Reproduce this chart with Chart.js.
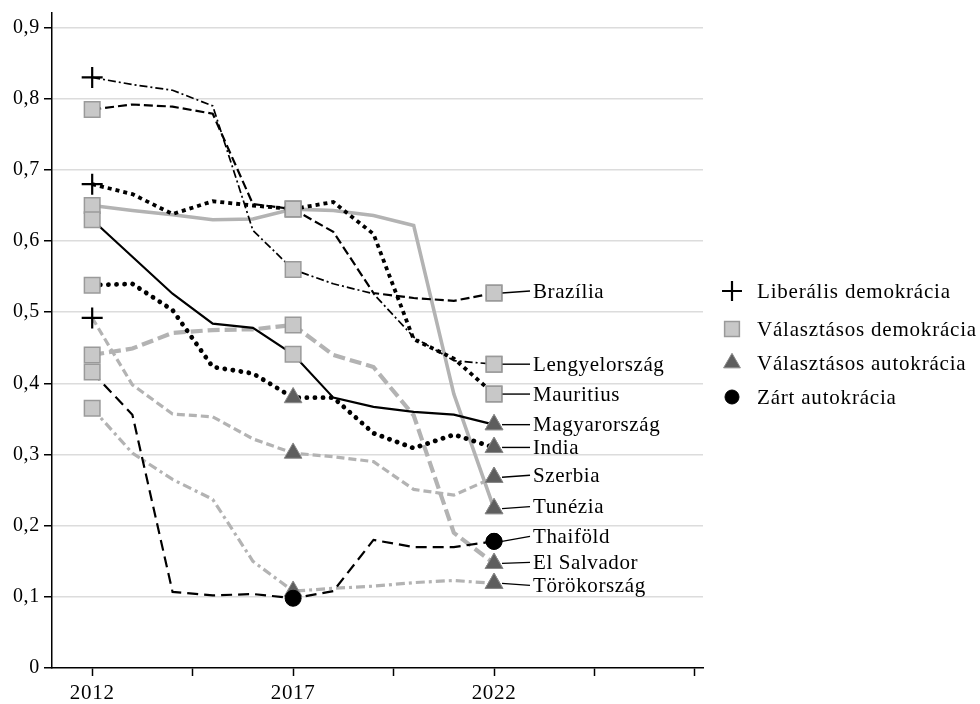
<!DOCTYPE html>
<html><head><meta charset="utf-8">
<script src="https://cdn.jsdelivr.net/npm/chart.js@4/dist/chart.umd.min.js"></script>
<style>html,body{margin:0;padding:0;background:#fff;}canvas{display:block;}</style>
</head><body>
<canvas id="c" width="980" height="704"></canvas>
<script>
// ---- data ----
const years = [2012,2013,2014,2015,2016,2017,2018,2019,2020,2021,2022];
const yTicks = [0,0.1,0.2,0.3,0.4,0.5,0.6,0.7,0.8,0.9];
const xTicks = [2012,2014.5,2017,2019.5,2022,2024.5,2027];
const xLabelled = [2012,2017,2022];
const countries = ['Brazília','Lengyelország','Mauritius','Magyarország','India','Szerbia','Tunézia','Thaiföld','El Salvador','Törökország'];
const brazil     = [0.785,0.792,0.789,0.779,0.652,0.645,0.613,0.527,0.520,0.516,0.527];
const poland     = [0.830,0.820,0.812,0.790,0.615,0.560,0.540,0.526,0.465,0.432,0.427];
const mauritius  = [0.680,0.666,0.638,0.656,0.650,0.645,0.655,0.610,0.462,0.435,0.385];
const hungary    = [0.630,0.578,0.526,0.484,0.478,0.441,0.380,0.367,0.360,0.356,0.342];
const india      = [0.538,0.540,0.503,0.423,0.414,0.380,0.380,0.330,0.309,0.328,0.310];
const serbia     = [0.492,0.398,0.357,0.353,0.322,0.302,0.297,0.290,0.251,0.243,0.268];
const tunisia    = [0.650,0.643,0.637,0.630,0.631,0.645,0.643,0.636,0.622,0.385,0.224];
const thailand   = [0.416,0.356,0.107,0.102,0.104,0.098,0.108,0.180,0.170,0.170,0.178];
const elSalvador = [0.440,0.449,0.471,0.475,0.476,0.482,0.440,0.423,0.355,0.190,0.147];
const turkey     = [0.365,0.302,0.265,0.237,0.150,0.108,0.112,0.115,0.120,0.123,0.119];
const series = [brazil,poland,mauritius,hungary,india,serbia,tunisia,thailand,elSalvador,turkey];
// regime category at 2012, 2017, 2022 (L = liberális dem., E = választásos dem., A = választásos autokrácia, C = zárt autokrácia)
const markerYears = [2012,2017,2022];
const regimes = [
  ['E','E','E'], ['L','E','E'], ['L','E','E'], ['E','E','A'], ['E','A','A'],
  ['L','A','A'], ['E','E','A'], ['E','C','C'], ['E','E','A'], ['E','A','A']
];
const regimeCodes = ['L','E','A','C'];
const regimeNames = ['Liberális demokrácia','Választásos demokrácia','Választásos autokrácia','Zárt autokrácia'];

// ---- styles ----
const BLACK = '#000000', GRAY = '#b3b3b3';
const lineStyles = [
  {color:BLACK, width:2.2, dash:[9,4]},          // Brazília
  {color:BLACK, width:1.7, dash:[8,3,2,3]},      // Lengyelország
  {color:BLACK, width:3.8, dash:[4,4]},          // Mauritius
  {color:BLACK, width:2.2, dash:[]},             // Magyarország
  {color:BLACK, width:4.8, dash:[0.1,8], cap:'round'}, // India
  {color:GRAY,  width:3.2, dash:[8,4]},          // Szerbia
  {color:GRAY,  width:3.6, dash:[]},             // Tunézia
  {color:BLACK, width:2.2, dash:[11,6]},         // Thaiföld
  {color:GRAY,  width:4.2, dash:[12,5]},         // El Salvador
  {color:GRAY,  width:3.2, dash:[9,4,3,4]}       // Törökország
];
const markerStyles = {
  L: {pointStyle:'cross',    radius:10.5, bg:BLACK,     border:BLACK,     bw:2.2},
  E: {pointStyle:'rect',     radius:11,   bg:'#c8c8c8', border:'#9a9a9a', bw:1.5},
  A: {pointStyle:'triangle', radius:10.2, bg:'#5e5e5e', border:'#8a8a8a', bw:1},
  C: {pointStyle:'circle',   radius:8,    bg:BLACK,     border:BLACK,     bw:1}
};
const FONT = '"Liberation Serif","Times New Roman",serif';

function markerOf(di, idx){
  const k = markerYears.indexOf(years[idx]);
  return k < 0 ? null : markerStyles[regimes[di][k]];
}

const datasets = series.map((vals, di) => ({
  label: countries[di],
  data: vals.map((v,i) => ({x: years[i], y: v})),
  borderColor: lineStyles[di].color,
  borderWidth: lineStyles[di].width,
  borderDash: lineStyles[di].dash,
  borderCapStyle: lineStyles[di].cap || 'butt',
  tension: 0,
  fill: false,
  pointStyle: c => { const m = markerOf(di, c.dataIndex); return m ? m.pointStyle : 'circle'; },
  pointRadius: c => { const m = markerOf(di, c.dataIndex); return m ? m.radius : 0; },
  pointBackgroundColor: c => { const m = markerOf(di, c.dataIndex); return m ? m.bg : BLACK; },
  pointBorderColor: c => { const m = markerOf(di, c.dataIndex); return m ? m.border : BLACK; },
  pointBorderWidth: c => { const m = markerOf(di, c.dataIndex); return m ? m.bw : 0; },
  pointHoverRadius: 0
}));

const labelNudge = [-2,0,0,0,0,-2,-2,-5,-1,2];

const spacing = {
  id: 'spacing',
  beforeDraw(chart){ try { chart.ctx.letterSpacing = '0.7px'; } catch(e){} }
};

const endLabels = {
  id: 'endLabels',
  afterDatasetsDraw(chart){
    const ctx = chart.ctx;
    ctx.save();
    ctx.font = '21px ' + FONT;
    try { ctx.letterSpacing = '0.6px'; } catch(e){}
    ctx.fillStyle = '#000';
    ctx.textBaseline = 'middle';
    ctx.textAlign = 'left';
    const textX = 533;
    chart.data.datasets.forEach((ds, di) => {
      const meta = chart.getDatasetMeta(di);
      const pt = meta.data[meta.data.length - 1];
      const ly = pt.y + labelNudge[di];
      ctx.beginPath();
      ctx.strokeStyle = '#000';
      ctx.lineWidth = 1.4;
      ctx.setLineDash([]);
      ctx.moveTo(pt.x + 8, pt.y);
      ctx.lineTo(textX - 3, ly);
      ctx.stroke();
      ctx.fillText(ds.label, textX, ly + 1);
    });
    chart.data.datasets.forEach((ds, di) => {
      const meta = chart.getDatasetMeta(di);
      const idx = meta.data.length - 1;
      const pt = meta.data[idx];
      const m = markerOf(di, idx);
      ctx.fillStyle = m.bg; ctx.strokeStyle = m.border; ctx.lineWidth = m.bw;
      Chart.helpers.drawPoint(ctx, {pointStyle:m.pointStyle, radius:m.radius, borderWidth:m.bw, rotation:0}, pt.x, pt.y);
    });
    ctx.restore();
  }
};

const customLegend = {
  id: 'customLegend',
  afterDraw(chart){
    const ctx = chart.ctx;
    ctx.save();
    const ys = [291, 329, 363, 397];
    regimeCodes.forEach((code, i) => {
      const m = markerStyles[code];
      ctx.fillStyle = m.bg; ctx.strokeStyle = m.border; ctx.lineWidth = m.bw;
      Chart.helpers.drawPoint(ctx, {pointStyle:m.pointStyle, radius:(code==='C'?7:m.radius*0.95), borderWidth:m.bw, rotation:0}, 732, ys[i]);
      ctx.font = '21px ' + FONT;
      try { ctx.letterSpacing = '0.8px'; } catch(e){}
      ctx.fillStyle = '#000';
      ctx.textBaseline = 'middle';
      ctx.textAlign = 'left';
      ctx.fillText(regimeNames[i], 757, ys[i] + 1);
    });
    ctx.restore();
  }
};

new Chart(document.getElementById('c'), {
  type: 'line',
  data: { datasets },
  plugins: [spacing, endLabels, customLegend],
  options: {
    responsive: false,
    animation: false,
    events: [],
    layout: { padding: { top: 10, right: 277, left: 0, bottom: 0 } },
    plugins: { legend: { display: false }, tooltip: { enabled: false } },
    scales: {
      x: {
        type: 'linear',
        min: 2011, max: 2027.2,
        afterFit: s => { s.height = 36; s.paddingLeft = 0; s.paddingRight = 0; },
        afterBuildTicks: s => { s.ticks = xTicks.map(v => ({value: v})); },
        ticks: {
          autoSkip: false, maxRotation: 0, padding: 5,
          color: '#000', font: { family: FONT, size: 21 },
          callback: v => xLabelled.includes(v) ? String(v) : ''
        },
        grid: { drawOnChartArea: false, drawTicks: true, tickLength: 8, tickColor: '#000', tickWidth: 1.5 },
        border: { display: true, color: '#000', width: 1.5 }
      },
      y: {
        type: 'linear',
        min: 0, max: 0.921,
        afterFit: s => { s.width = 52; s.paddingTop = 0; s.paddingBottom = 0; },
        afterBuildTicks: s => { s.ticks = yTicks.map(v => ({value: v})); },
        ticks: {
          padding: 4, color: '#000', font: { family: FONT, size: 20 },
          callback: v => v === 0 ? '0' : v.toFixed(1).replace('.', ',')
        },
        grid: {
          color: c => (c.tick && c.tick.value === 0) ? 'rgba(0,0,0,0)' : '#dcdcdc',
          lineWidth: 1.5, drawTicks: true, tickLength: 8, tickColor: '#000', tickWidth: 1.5
        },
        border: { display: true, color: '#000', width: 1.5 }
      }
    }
  }
});
</script>
</body></html>
